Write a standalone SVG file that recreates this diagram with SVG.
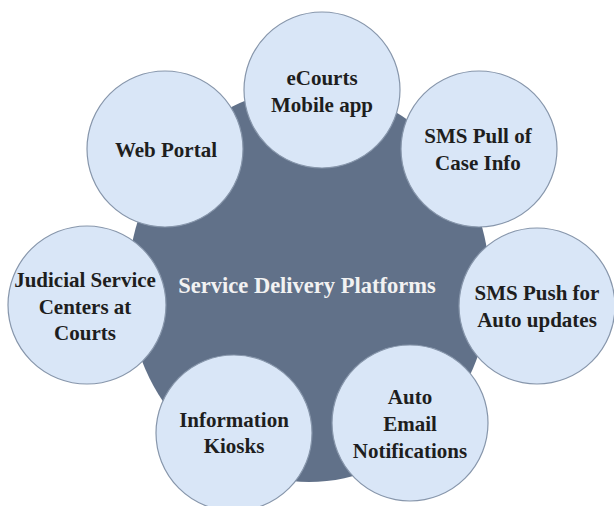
<svg xmlns="http://www.w3.org/2000/svg" width="614" height="506" viewBox="0 0 614 506">
<style>
.node{fill:#d9e6f7;stroke:#8796ab;stroke-width:1.2}
.lbl{font-family:"Liberation Serif","Times New Roman",serif;font-weight:bold;font-size:21px;fill:#1e1e1e;text-anchor:middle}
.hub{fill:#617189}
.hubtxt{font-family:"Liberation Serif","Times New Roman",serif;font-weight:bold;font-size:22.5px;fill:#f2f2f2;text-anchor:middle}
</style>
<rect width="614" height="506" fill="#ffffff"/>
<g id="hub">
<ellipse class="hub" cx="309" cy="285" rx="181" ry="197"/>
<text class="hubtxt" x="307" y="293">Service Delivery Platforms</text>
</g>
<g id="connectors"></g>
<g id="ecourts">
<circle class="node" cx="322" cy="90" r="78"/>
<text class="lbl" x="322" y="85">eCourts</text>
<text class="lbl" x="322" y="112">Mobile app</text>
</g>
<g id="webportal">
<circle class="node" cx="165" cy="149" r="78"/>
<text class="lbl" x="166" y="157">Web Portal</text>
</g>
<g id="smspull">
<circle class="node" cx="479" cy="149" r="78"/>
<text class="lbl" x="478" y="143">SMS Pull of</text>
<text class="lbl" x="478" y="170">Case Info</text>
</g>
<g id="judicial">
<circle class="node" cx="87" cy="305" r="79"/>
<text class="lbl" x="85" y="287">Judicial Service</text>
<text class="lbl" x="85" y="314">Centers at</text>
<text class="lbl" x="85" y="340">Courts</text>
</g>
<g id="smspush">
<circle class="node" cx="537" cy="306" r="78"/>
<text class="lbl" x="537" y="300">SMS Push for</text>
<text class="lbl" x="537" y="327">Auto updates</text>
</g>
<g id="kiosks">
<circle class="node" cx="234" cy="433" r="78"/>
<text class="lbl" x="234" y="427">Information</text>
<text class="lbl" x="234" y="453">Kiosks</text>
</g>
<g id="email">
<circle class="node" cx="410" cy="423" r="78"/>
<text class="lbl" x="410" y="404">Auto</text>
<text class="lbl" x="410" y="431">Email</text>
<text class="lbl" x="410" y="458">Notifications</text>
</g>
</svg>
